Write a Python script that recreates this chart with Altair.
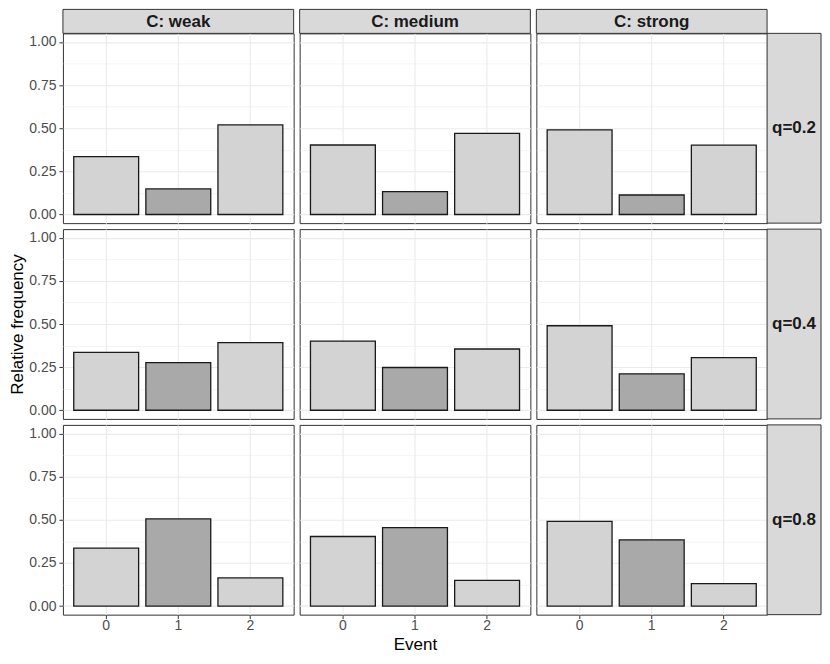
import altair as alt
import pandas as pd

FONT = "Liberation Sans"

events = ["0", "1", "2"]
bar_shade = ["light", "dark", "light"]
strength_labels = ["C: weak", "C: medium", "C: strong"]
q_labels = ["q=0.2", "q=0.4", "q=0.8"]

# relative frequency per event (0, 1, 2)
freq_q02_weak = [0.335, 0.148, 0.519]
freq_q02_medium = [0.403, 0.133, 0.470]
freq_q02_strong = [0.490, 0.113, 0.402]
freq_q04_weak = [0.336, 0.276, 0.392]
freq_q04_medium = [0.401, 0.248, 0.355]
freq_q04_strong = [0.490, 0.211, 0.305]
freq_q08_weak = [0.336, 0.505, 0.163]
freq_q08_medium = [0.403, 0.455, 0.149]
freq_q08_strong = [0.491, 0.384, 0.130]

values = [
    [freq_q02_weak, freq_q02_medium, freq_q02_strong],
    [freq_q04_weak, freq_q04_medium, freq_q04_strong],
    [freq_q08_weak, freq_q08_medium, freq_q08_strong],
]

y_ticks = [0, 0.125, 0.25, 0.375, 0.5, 0.625, 0.75, 0.875, 1.0]

W, H = 231, 190
STRIP_H = 24
STRIP_W = 54
GRID = "#EBEBEB"
BORDER = "#333333"


def panel(r, c):
    df = pd.DataFrame({"Event": events, "freq": values[r][c], "shade": bar_shade})
    left = c == 0
    bottom = r == 2
    xaxis = alt.Axis(
        title="Event" if (bottom and c == 1) else None,
        labels=bottom, ticks=bottom, domain=False,
        grid=True, gridColor=GRID, gridWidth=1.1, bandPosition=0.5,
        labelAngle=0, labelFontSize=14, labelColor="#4D4D4D", labelFont=FONT,
        tickColor=BORDER, tickSize=4, tickWidth=1, labelPadding=0,
        titleFontSize=17, titleFontWeight="normal", titleColor="black",
        titleFont=FONT, titlePadding=4,
    )
    yaxis = alt.Axis(
        title="Relative frequency" if (left and r == 1) else None,
        values=y_ticks,
        labels=left, ticks=left, domain=False,
        labelExpr="datum.value % 0.25 == 0 ? format(datum.value, '.2f') : ''",
        labelOverlap=False,
        grid=True, gridColor=GRID,
        gridWidth={"condition": {"test": "datum.value % 0.25 != 0", "value": 0.55}, "value": 1.1},
        tickOpacity={"condition": {"test": "datum.value % 0.25 != 0", "value": 0}, "value": 1},
        labelFontSize=14, labelColor="#4D4D4D", labelFont=FONT,
        tickColor=BORDER, tickSize=4, tickWidth=1, labelPadding=3,
        titleFontSize=17, titleFontWeight="normal", titleColor="black",
        titleFont=FONT, titlePadding=2,
    )
    bars = alt.Chart(df).mark_bar(stroke="#1A1A1A", strokeWidth=1.3).encode(
        x=alt.X("Event:N", sort=events,
                scale=alt.Scale(paddingInner=0.1, paddingOuter=0.15), axis=xaxis),
        y=alt.Y("freq:Q", scale=alt.Scale(domain=[-0.05, 1.05], nice=False, zero=False),
                axis=yaxis),
        y2=alt.datum(0),
        color=alt.Color("shade:N", scale=alt.Scale(domain=["light", "dark"],
                                                    range=["#D3D3D3", "#A9A9A9"]),
                        legend=None),
    )
    layers = [bars]
    if r == 0:
        d = pd.DataFrame({"label": [strength_labels[c]]})
        layers.append(alt.Chart(d).mark_rect(fill="#D9D9D9", stroke=BORDER, strokeWidth=1).encode(
            x=alt.value(0), x2=alt.value(W), y=alt.value(-STRIP_H), y2=alt.value(0)))
        layers.append(alt.Chart(d).mark_text(fontWeight="bold", fontSize=17, color="#1A1A1A", font=FONT).encode(
            x=alt.value(W / 2), y=alt.value(-STRIP_H / 2 + 1), text="label:N"))
    if c == 2:
        d = pd.DataFrame({"label": [q_labels[r]]})
        layers.append(alt.Chart(d).mark_rect(fill="#D9D9D9", stroke=BORDER, strokeWidth=1).encode(
            x=alt.value(W), x2=alt.value(W + STRIP_W), y=alt.value(0), y2=alt.value(H)))
        layers.append(alt.Chart(d).mark_text(fontWeight="bold", fontSize=17, color="#1A1A1A", font=FONT).encode(
            x=alt.value(W + STRIP_W / 2), y=alt.value(H / 2), text="label:N"))
    return alt.layer(*layers).properties(width=W, height=H)


cells = [panel(r, c) for r in range(3) for c in range(3)]

chart = alt.concat(*cells, columns=3, spacing=6, bounds="flush").properties(
    padding={"left": 0, "top": 0, "right": 0, "bottom": 0}
).configure(font=FONT).configure_view(stroke=BORDER, strokeWidth=1)

chart.save("out.html", embed_options={"renderer": "svg", "actions": False})
